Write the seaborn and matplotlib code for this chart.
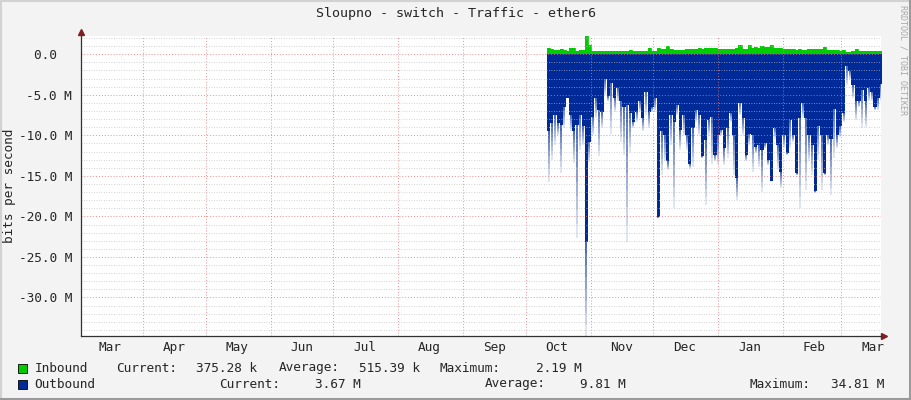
import numpy as np
import matplotlib.pyplot as plt
import matplotlib.dates as mdates
from matplotlib.ticker import MultipleLocator, FuncFormatter, NullFormatter
from matplotlib.lines import Line2D
import pandas as pd
import seaborn as sns

# textos del grafico
title = 'Sloupno - switch - Traffic - ether6'
ylabel = 'bits per second'
watermark = 'RRDTOOL / TOBI OETIKER'

# muestras cada 36 h desde el inicio de los datos (valores en M bit/s)
start = '2024-10-11 06:00'
inbound = [0.74, 0.60, 0.53, 0.55, 0.66, 0.55, 0.41, 0.82, 0.75, 0.45, 0.47, 0.50, 2.19, 1.15,
           0.45, 0.40, 0.45, 0.38, 0.42, 0.40, 0.38, 0.42, 0.40, 0.44, 0.38, 0.42, 0.47, 0.43,
           0.40, 0.45, 0.40, 0.38, 0.80, 0.42, 0.40, 0.74, 0.70, 0.62, 1.00, 0.62, 0.53, 0.58,
           0.50, 0.55, 0.66, 0.62, 0.60, 0.66, 0.74, 0.70, 0.78, 0.74, 0.80, 0.74,
           0.60, 0.62, 0.66, 0.70, 0.62, 0.66, 0.78, 1.10, 0.66, 0.70, 1.15, 0.82, 0.86, 0.80,
           1.05, 0.95, 0.90, 1.15, 0.78, 0.74, 0.78, 0.66, 0.70, 0.62, 0.66, 0.58, 0.62, 0.55,
           0.58, 0.62, 0.66, 0.62, 0.70, 0.66, 0.85, 0.55, 0.50, 0.48, 0.52, 0.45, 0.48, 0.33,
           0.30, 0.38, 0.60, 0.40, 0.42, 0.45, 0.40, 0.42, 0.40, 0.45, 0.38]
# parte solida del trafico de salida
out_body = [9.5, 8.5, 7.5, 8.5, 8.7, 6.5, 5.4, 7.5, 9.5, 8.7, 7.5, 8.9, 23.1, 10.8, 7.7, 5.4,
            6.9, 7.1, 3.0, 5.2, 3.6, 5.4, 4.2, 5.8, 6.5, 6.3, 7.3,
            8.3, 7.1, 5.8, 7.9, 4.6, 7.1, 6.5, 5.4, 20.1, 9.5, 10.0, 13.2, 7.5, 8.3, 6.3, 9.3,
            7.5, 10.0, 13.5, 9.1, 6.9, 7.5, 12.6, 10.6, 8.1, 7.7, 12.4,
            10.0, 9.3, 11.6, 9.1, 7.3, 10.0, 15.3, 6.0, 7.9, 12.4, 9.8, 10.0, 11.4, 11.2, 11.8,
            11.0, 13.0, 15.6, 9.1, 11.2, 14.5, 10.0, 12.2, 8.1, 10.0, 14.7, 7.9,
            6.0, 7.9, 10.0, 11.2, 16.9, 8.9, 10.0, 14.7, 10.0, 10.4, 6.7, 10.0, 8.9, 7.3, 1.5,
            2.1, 3.8, 5.8, 5.8, 4.4, 5.8, 4.2, 4.6, 6.5, 5.4, 3.7]
# picos (la parte clara de cada pico)
out_peak = [15.7, 13.0, 11.2, 10.0, 14.7, 9.1, 5.4, 9.5, 13.4, 22.7, 11.8, 11.2, 34.8, 13.3,
            10.0, 7.9, 12.6, 9.1, 5.0, 5.8, 9.8, 7.1, 5.8, 10.8, 12.4, 23.1, 12.0,
            9.1, 8.3, 7.1, 9.5, 7.5, 9.1, 7.1, 7.1, 20.2, 14.9, 13.2, 14.3, 11.2, 19.0, 7.5,
            11.8, 10.0, 11.8, 14.1, 13.9, 8.3, 10.0, 12.8, 18.6, 10.0, 13.5, 13.2,
            13.7, 10.0, 13.7, 12.8, 8.3, 14.9, 18.0, 7.5, 10.0, 13.2, 11.2, 14.5, 12.2, 13.9,
            17.0, 11.6, 13.7, 15.7, 10.4, 14.1, 16.5, 11.6, 12.4, 11.6, 10.8, 14.9, 19.0,
            7.9, 16.7, 13.2, 14.9, 17.1, 13.0, 16.7, 14.9, 11.2, 17.4, 12.8, 11.6, 10.2, 8.3,
            3.8, 3.0, 5.4, 8.1, 6.5, 9.1, 9.0, 5.8, 5.8, 6.9, 6.9, 5.8]

# leyenda
legend_rows = [
    ('Inbound', '#00cc00', [('Current:', 116.5), ('375.28 k', 196.5), ('Average:', 279),
                            ('515.39 k', 359), ('Maximum:', 440), ('2.19 M', 536)]),
    ('Outbound', '#002a97', [('Current:', 219.5), ('3.67 M', 315), ('Average:', 485),
                             ('9.81 M', 580), ('Maximum:', 750), ('34.81 M', 831)]),
]

t = pd.date_range(start, periods=len(inbound), freq='36h')
t_ext = t.append(pd.DatetimeIndex([t[-1] + pd.Timedelta(hours=36)]))
inb = np.append(inbound, inbound[-1])
body = -np.append(out_body, out_body[-1])
df = pd.DataFrame({'time': t_ext, 'inbound': inb})

sns.set_style('white')
plt.rcParams['font.family'] = ['DejaVu Sans Mono', 'DejaVu Sans']

W, H = 911, 400
fig = plt.figure(figsize=(W / 100, H / 100), dpi=100, facecolor='#f3f3f3')
ax = fig.add_axes([81 / W, (H - 336) / H, 800 / W, 300 / H])
ax.set_facecolor('white')

blue = '#002a97'
green = '#00cc00'

# picos finos que se desvanecen hacia abajo
t_mid = t + pd.Timedelta(hours=18)
b = -np.array(out_body)
p = -np.array(out_peak)
n_fade = 8
for k in range(n_fade):
    y0 = b + (p - b) * k / n_fade
    y1 = b + (p - b) * (k + 1) / n_fade
    ax.vlines(t_mid, y0, y1, color=blue, lw=1.1, alpha=0.85 * (1 - k / n_fade) + 0.05, zorder=1)

ax.fill_between(t_ext, 0, body, step='post', color=blue, lw=0, zorder=1.2)
ax.fill_between(t_ext, 0, inb, step='post', color=green, lw=0, zorder=1.2)
sns.lineplot(data=df, x='time', y='inbound', drawstyle='steps-post', color=green,
             lw=0.6, ax=ax, zorder=1.3)

ax.set_xlim(pd.Timestamp('2024-03-02 08:24'), pd.Timestamp('2025-03-19 21:36'))
ax.set_ylim(-34.75, 2.25)
ax.set_xlabel('')
ax.set_ylabel('')

# ejes de tiempo: rejilla al inicio de mes, etiquetas a mitad de mes
ax.xaxis.set_major_locator(mdates.MonthLocator())
ax.xaxis.set_major_formatter(NullFormatter())
ax.xaxis.set_minor_locator(mdates.MonthLocator(bymonthday=16))
ax.xaxis.set_minor_formatter(mdates.DateFormatter('%b'))
ax.yaxis.set_major_locator(MultipleLocator(5))
ax.yaxis.set_minor_locator(MultipleLocator(1))
ax.yaxis.set_major_formatter(FuncFormatter(lambda v, p: '0.0  ' if abs(v) < 1e-9 else f'{v:.1f} M'))

ax.tick_params(axis='x', which='major', length=3, direction='inout', color='#606060')
ax.tick_params(axis='x', which='minor', length=0, pad=3.5, labelsize=9.2)
ax.tick_params(axis='y', which='major', length=0, pad=6.5, labelsize=9.2)
ax.tick_params(axis='y', which='minor', length=0)

ax.set_axisbelow(False)
dots = (0, (1, 2))
ax.grid(which='minor', axis='y', color='#bdbdbd', ls=dots, lw=0.6, alpha=0.9)
ax.grid(which='major', axis='y', color='#f07070', ls=dots, lw=0.7, alpha=0.8)
ax.grid(which='major', axis='x', color='#f07070', ls=dots, lw=0.7, alpha=0.8)

for s in ['top', 'right']:
    ax.spines[s].set_visible(False)
for s in ['left', 'bottom']:
    ax.spines[s].set_color('#303030')
    ax.spines[s].set_linewidth(0.9)
    ax.spines[s].set_zorder(3)

# flechas de los ejes
arrow = '#7f1f1f'
ax.plot([0], [1 + 4 / 300], marker='^', ms=4.5, color=arrow, transform=ax.transAxes, clip_on=False)
ax.plot([1 + 3 / 800], [0], marker='>', ms=4.5, color=arrow, transform=ax.transAxes, clip_on=False)

fig.text(455.5 / W, 1 - 13 / H, title, ha='center', va='center', fontsize=9.6)
fig.text(10 / W, 1 - 186 / H, ylabel, ha='center', va='center', rotation=90, fontsize=9.2)
fig.text(903 / W, 1 - 5 / H, watermark, ha='center', va='top', rotation=270, fontsize=6,
         color='#a8a8a8')

for row, (name, col, items) in enumerate(legend_rows):
    yc = 368 + 16 * row
    fig.patches.append(plt.Rectangle((17.5 / W, 1 - (yc + 4.5) / H), 9 / W, 9 / H,
                                     transform=fig.transFigure, facecolor=col,
                                     edgecolor='black', lw=0.6))
    fig.text(34.5 / W, 1 - yc / H, name, ha='left', va='center', fontsize=9.2)
    for txt, x in items:
        fig.text(x / W, 1 - yc / H, txt, ha='left', va='center', fontsize=9.2)

# borde del lienzo
fig.add_artist(Line2D([0.5 / W, 0.5 / W], [0, 1], color='#d2d2d2', lw=1.5))
fig.add_artist(Line2D([0, 1], [1 - 0.5 / H, 1 - 0.5 / H], color='#d2d2d2', lw=1.5))
fig.add_artist(Line2D([1 - 1.5 / W, 1 - 1.5 / W], [0, 1], color='#9a9a9a', lw=2.2))
fig.add_artist(Line2D([0, 1], [1.5 / H, 1.5 / H], color='#9a9a9a', lw=2.2))

fig.savefig('out.png', dpi=100, facecolor=fig.get_facecolor())
